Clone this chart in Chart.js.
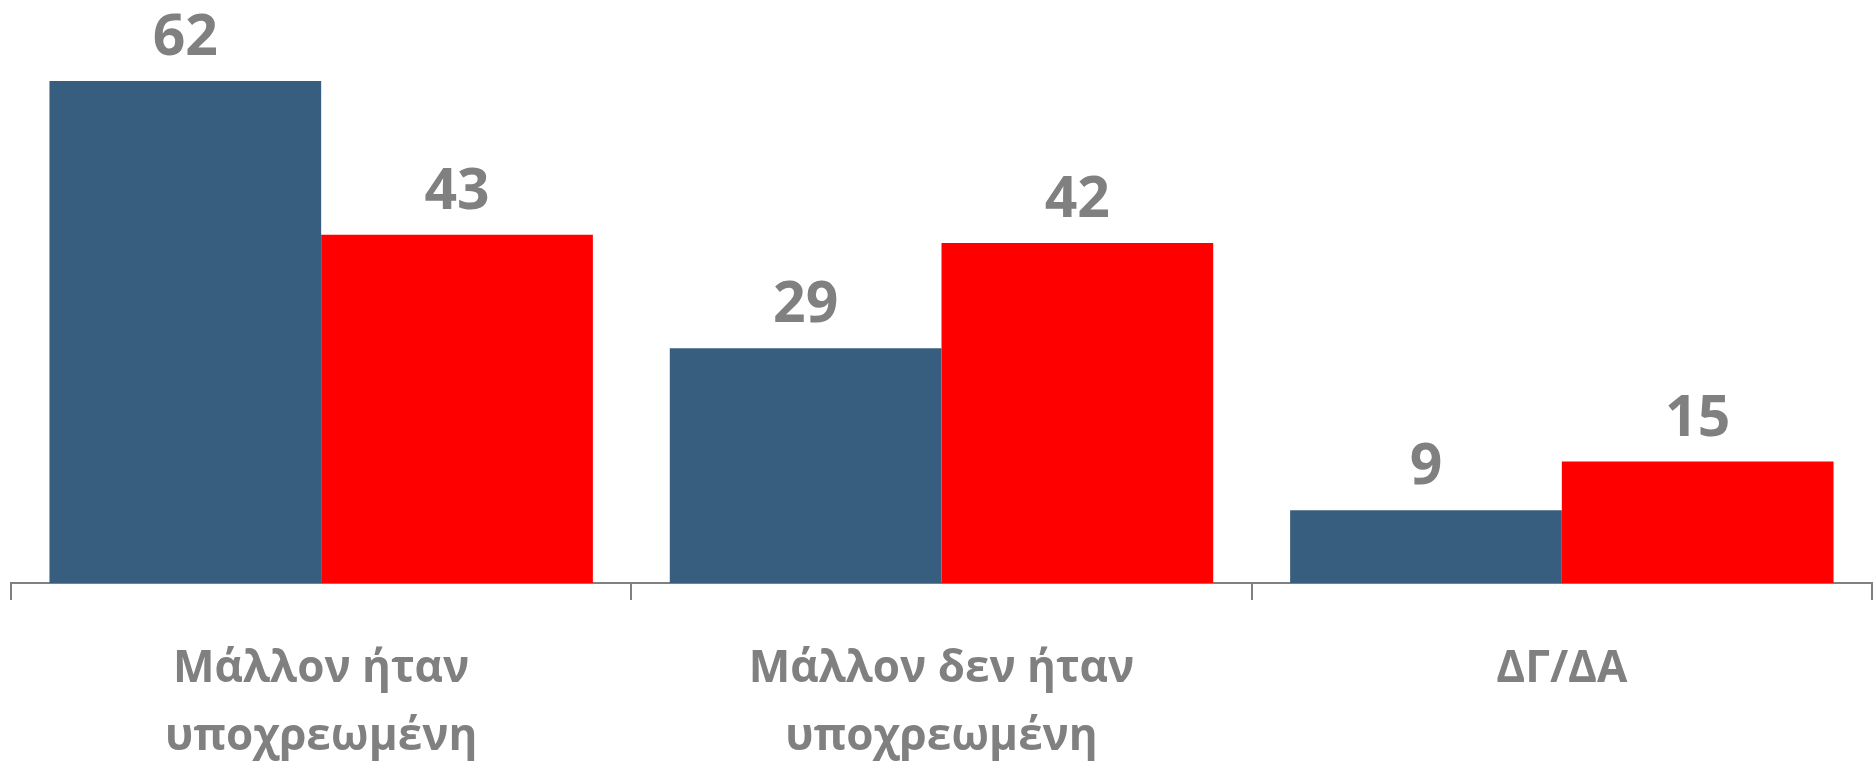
<!DOCTYPE html>
<html>
<head>
<meta charset="utf-8">
<script src="https://cdn.jsdelivr.net/npm/chart.js@4/dist/chart.umd.min.js"></script>
<style>
  html, body { margin: 0; padding: 0; background: #fff; }
  #wrap { width: 1874px; height: 764px; position: relative; }
</style>
</head>
<body>
<div id="wrap"><canvas id="chart"></canvas></div>
<script>
// category labels (two lines where the original wraps)
const categories = [
  ['Μάλλον ήταν', 'υποχρεωμένη'],
  ['Μάλλον δεν ήταν', 'υποχρεωμένη'],
  'ΔΓ/ΔΑ'
];
const seriesA = [62, 29, 9];
const seriesB = [43, 42, 15];

const TEXT_GREY = '#808080';
const FONT = "'Open Sans', 'Noto Sans', sans-serif";

// writes each value above its bar
const valueLabels = {
  id: 'valueLabels',
  afterDatasetsDraw(chart) {
    const ctx = chart.ctx;
    ctx.save();
    ctx.fillStyle = TEXT_GREY;
    ctx.font = `bold 57px ${FONT}`;
    ctx.textAlign = 'center';
    ctx.textBaseline = 'alphabetic';
    chart.data.datasets.forEach((ds, i) => {
      chart.getDatasetMeta(i).data.forEach((bar, j) => {
        ctx.fillText(String(ds.data[j]), bar.x, bar.y - 26);
      });
    });
    ctx.restore();
  }
};

const ctx = document.getElementById('chart').getContext('2d');
new Chart(ctx, {
  type: 'bar',
  data: {
    labels: categories,
    datasets: [
      { label: 'Σειρά 1', data: seriesA, backgroundColor: '#375E7E' },
      { label: 'Σειρά 2', data: seriesB, backgroundColor: '#FF0000' }
    ]
  },
  options: {
    responsive: true,
    maintainAspectRatio: false,
    animation: false,
    layout: { padding: { left: 11, right: 2, top: 0, bottom: 0 } },
    datasets: {
      bar: { categoryPercentage: 0.876, barPercentage: 1.0 }
    },
    plugins: {
      legend: { display: false },
      tooltip: { enabled: false }
    },
    scales: {
      x: {
        afterFit(scale) { scale.height = 181; },
        border: { display: true, color: TEXT_GREY, width: 2 },
        grid: {
          offset: true,
          drawOnChartArea: false,
          drawTicks: true,
          tickLength: 17,
          color: TEXT_GREY,
          lineWidth: 2
        },
        ticks: {
          color: TEXT_GREY,
          padding: 35,
          maxRotation: 0,
          autoSkip: false,
          font: { family: FONT, size: 44, weight: 'bold', lineHeight: 1.55 }
        }
      },
      y: {
        display: false,
        min: 0,
        max: 72
      }
    }
  },
  plugins: [valueLabels]
});
</script>
</body>
</html>
